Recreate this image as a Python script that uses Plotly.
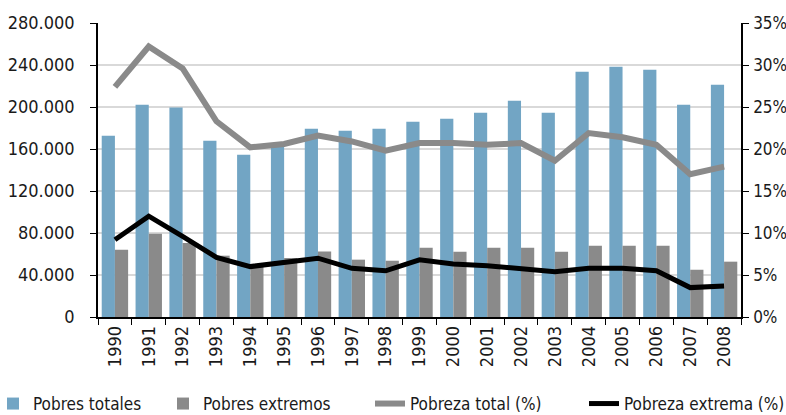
import plotly.graph_objects as go

years = [str(y) for y in range(1990, 2009)]
pobres_totales = [172700, 202200, 199600, 167900, 154600, 162500, 179300, 177400, 179300,
                  186000, 188900, 194600, 206000, 194600, 233600, 238400, 235500, 202200, 221200]
pobres_extremos = [64100, 79300, 70500, 58400, 50000, 56200, 62500, 54600, 53600,
                   66000, 62200, 66000, 66000, 62200, 67900, 67900, 67900, 45000, 52700]
pobreza_total_pct = [27.4, 32.2, 29.6, 23.3, 20.2, 20.6, 21.6, 20.9, 19.8,
                     20.7, 20.7, 20.5, 20.7, 18.6, 21.9, 21.4, 20.5, 17.0, 17.9]
pobreza_extrema_pct = [9.2, 12.0, 9.6, 7.1, 6.0, 6.5, 7.0, 5.8, 5.5,
                       6.8, 6.3, 6.1, 5.8, 5.4, 5.8, 5.8, 5.5, 3.5, 3.7]
left_ticks = [0, 40000, 80000, 120000, 160000, 200000, 240000, 280000]
right_ticks = [0, 5, 10, 15, 20, 25, 30, 35]
right_labels = [f"{v}%" for v in right_ticks]

FONT = "DejaVu Sans Condensed, DejaVu Sans, sans-serif"
BLUE = "#72A5C4"
GREY = "#8A8A8A"
TXT = "#1a1a1a"

fig = go.Figure()
fig.add_trace(go.Bar(x=years, y=pobres_totales, name="Pobres totales",
                     marker=dict(color=BLUE, line=dict(width=0)), legend="legend"))
fig.add_trace(go.Bar(x=years, y=pobres_extremos, name="Pobres extremos",
                     marker=dict(color=GREY, line=dict(width=0)), legend="legend2"))
fig.add_trace(go.Scatter(x=years, y=pobreza_total_pct, name="Pobreza total (%)", mode="lines",
                         line=dict(color=GREY, width=6), yaxis="y2", legend="legend3"))
fig.add_trace(go.Scatter(x=years, y=pobreza_extrema_pct, name="Pobreza extrema (%)", mode="lines",
                         line=dict(color="black", width=5), yaxis="y2", legend="legend4"))

W, H = 786, 415
L, R, T, B = 98, 45, 23, 98
PW = W - L - R

legend_common = dict(orientation="h", yref="container", xref="container",
                     yanchor="middle", y=1 - 404 / H, xanchor="left",
                     font=dict(family=FONT, size=17, color=TXT),
                     bgcolor="rgba(0,0,0,0)", itemwidth=30, tracegroupgap=0,
                     visible=True)

fig.update_layout(
    width=W, height=H,
    margin=dict(l=L, r=R, t=T, b=B, autoexpand=False),
    paper_bgcolor="white", plot_bgcolor="white",
    separators=",.",
    showlegend=True,
    barmode="group", bargap=0.22, bargroupgap=0,
    font=dict(family=FONT, size=18, color=TXT),
    xaxis=dict(type="category", showline=True, linecolor="black", linewidth=1.5,
               ticks="outside", ticklen=6, tickcolor="black", tickson="boundaries",
               tickangle=-90, tickfont=dict(size=18, family=FONT, color=TXT),
               showgrid=False, zeroline=False, automargin=False),
    yaxis=dict(range=[0, 280000], tickvals=left_ticks, tickformat=",d",
               showline=True, linecolor="black", linewidth=1.5,
               ticks="outside", ticklen=6, tickcolor="black",
               showgrid=True, gridcolor="#D9D9D9", gridwidth=1.5, zeroline=False,
               tickfont=dict(size=18, family=FONT, color=TXT), ticklabelstandoff=12,
               automargin=False),
    yaxis2=dict(range=[0, 35], tickvals=right_ticks, ticktext=right_labels, overlaying="y",
                side="right", showline=True, linecolor="black", linewidth=1.5,
                ticks="outside", ticklen=6, tickcolor="black", showgrid=False,
                zeroline=False, tickfont=dict(size=17, family=FONT, color=TXT),
                ticklabelstandoff=1, automargin=False),
    legend=dict(legend_common, xref="paper", x=(-7 - L) / PW),
    legend2=dict(legend_common, x=163 / W),
    legend3=dict(legend_common, x=370 / W),
    legend4=dict(legend_common, x=584 / W),
)

fig.write_html("out.html", config={"displayModeBar": False},
               post_script="document.body.style.margin='0';document.body.style.padding='0';window.dispatchEvent(new Event('resize'));")
